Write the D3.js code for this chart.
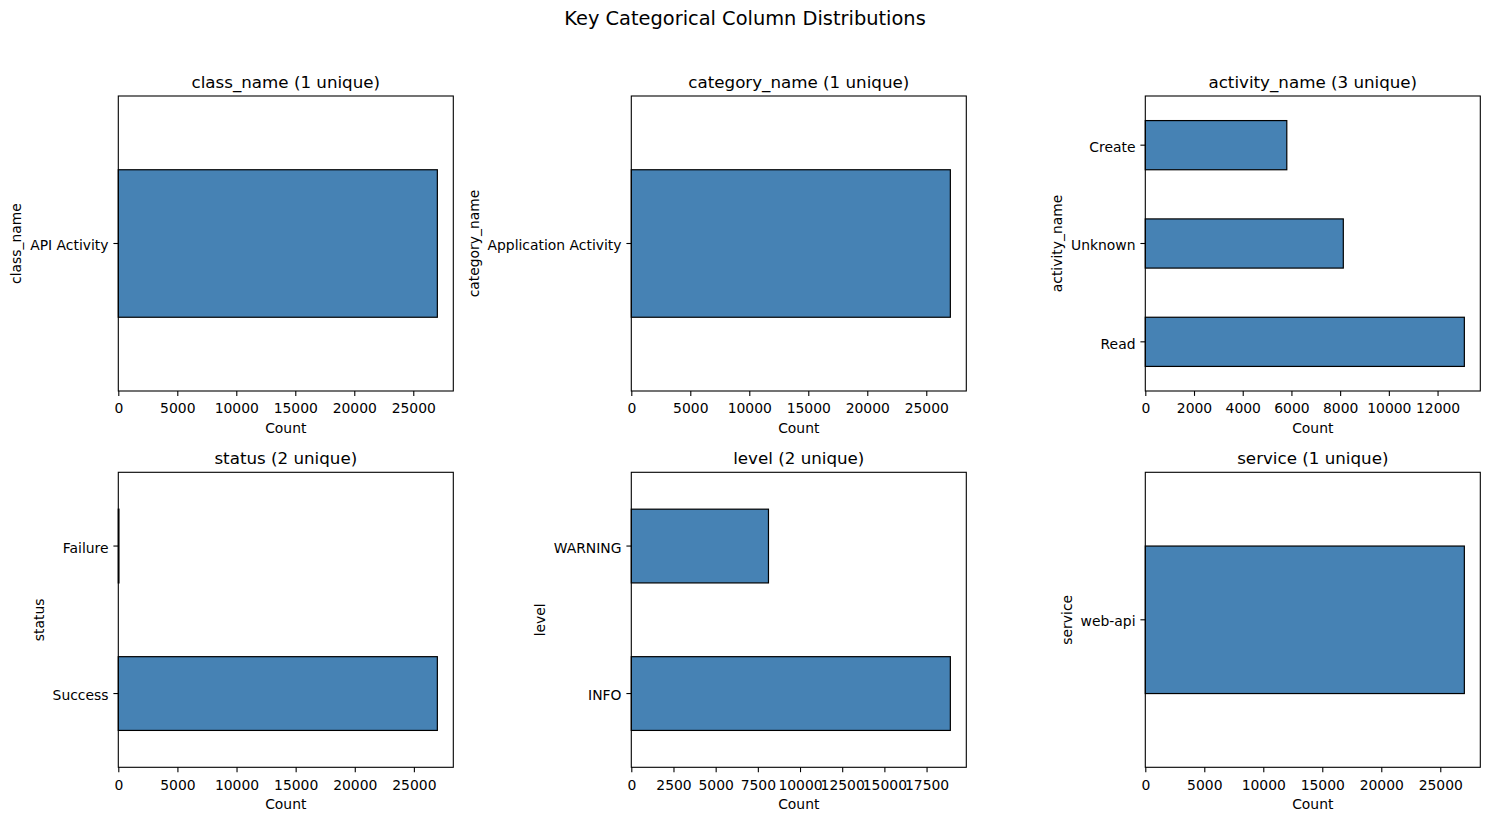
<!DOCTYPE html>
<html>
<head>
<meta charset="utf-8">
<script src="https://cdn.jsdelivr.net/npm/d3@7"></script>
<style>
  html, body { margin: 0; padding: 0; background: #fff; }
  svg { display: block; font-family: "DejaVu Sans", sans-serif; }
</style>
</head>
<body>
<svg id="chart" width="1489" height="820"></svg>
<script>
// ---- data ----
const suptitle = "Key Categorical Column Distributions";

const classNames = ["API Activity"];
const classCounts = [27040];

const categoryNames = ["Application Activity"];
const categoryCounts = [27040];

const activityNames = ["Read", "Unknown", "Create"];
const activityCounts = [13100, 8130, 5810];

const statusNames = ["Success", "Failure"];
const statusCounts = [26985, 55];

const levelNames = ["INFO", "WARNING"];
const levelCounts = [18910, 8130];

const serviceNames = ["web-api"];
const serviceCounts = [27040];

const ticks5000 = [0, 5000, 10000, 15000, 20000, 25000];
const ticks2000 = [0, 2000, 4000, 6000, 8000, 10000, 12000];
const ticks2500 = [0, 2500, 5000, 7500, 10000, 12500, 15000, 17500];

const panels = [
  { col: "class_name", names: classNames, counts: classCounts, ticks: ticks5000 },
  { col: "category_name", names: categoryNames, counts: categoryCounts, ticks: ticks5000 },
  { col: "activity_name", names: activityNames, counts: activityCounts, ticks: ticks2000 },
  { col: "status", names: statusNames, counts: statusCounts, ticks: ticks5000 },
  { col: "level", names: levelNames, counts: levelCounts, ticks: ticks2500 },
  { col: "service", names: serviceNames, counts: serviceCounts, ticks: ticks5000 }
];

// ---- layout ----
const svg = d3.select("#chart");
const colLeft = [118.3, 631.3, 1145.3];
const rowTop = [96, 472.3];
const W = 335, H = 295;
const tickFont = 13.9, titleFont = 16.7;

svg.append("text")
  .attr("x", 745).attr("y", 25)
  .attr("text-anchor", "middle")
  .attr("font-size", 19.4)
  .attr("fill", "#000")
  .text(suptitle);

panels.forEach((p, idx) => {
  const left = colLeft[idx % 3], top = rowTop[Math.floor(idx / 3)];
  const g = svg.append("g").attr("transform", `translate(${left},${top})`);

  const maxV = d3.max(p.counts);
  const x = d3.scaleLinear().domain([0, maxV * 1.05]).range([0, W]);
  // first category at bottom (matplotlib barh order)
  const y = d3.scaleBand().domain(p.names.slice().reverse()).range([0, H])
    .paddingInner(0.5).paddingOuter(0.25);

  // bars
  g.selectAll("rect.bar").data(p.names.map((n, i) => ({ n, v: p.counts[i] })))
    .enter().append("rect")
    .attr("class", "bar")
    .attr("x", x(0))
    .attr("y", d => y(d.n))
    .attr("width", d => x(d.v) - x(0))
    .attr("height", y.bandwidth())
    .attr("fill", "#4682b4")
    .attr("stroke", "#000")
    .attr("stroke-width", 1.2);

  // frame (spines)
  g.append("rect").attr("x", 0).attr("y", 0).attr("width", W).attr("height", H)
    .attr("fill", "none").attr("stroke", "#000").attr("stroke-width", 1.1);

  // x axis
  const xa = g.append("g").attr("transform", `translate(0,${H})`)
    .call(d3.axisBottom(x).tickValues(p.ticks).tickFormat(d3.format("d"))
      .tickSize(4.9).tickPadding(4.9).tickSizeOuter(0));
  xa.select(".domain").remove();
  xa.selectAll("line").attr("stroke", "#000").attr("stroke-width", 1.1);
  xa.selectAll("text").attr("font-size", tickFont).attr("font-family", "DejaVu Sans")
    .attr("fill", "#000").attr("dy", "0.9em");

  // y axis
  const ya = g.append("g")
    .call(d3.axisLeft(y).tickSize(4.9).tickPadding(4.9).tickSizeOuter(0));
  ya.select(".domain").remove();
  ya.selectAll("line").attr("stroke", "#000").attr("stroke-width", 1.1);
  ya.selectAll("text").attr("font-size", tickFont).attr("font-family", "DejaVu Sans")
    .attr("fill", "#000").attr("dy", "0.48em");

  // title
  g.append("text").attr("x", W / 2).attr("y", -8.3)
    .attr("text-anchor", "middle").attr("font-size", titleFont).attr("fill", "#000")
    .text(`${p.col} (${p.names.length} unique)`);

  // x label
  g.append("text").attr("x", W / 2).attr("y", H + 41.5)
    .attr("text-anchor", "middle").attr("font-size", tickFont).attr("fill", "#000")
    .text("Count");

  // y label, placed left of tick labels
  const bb = ya.node().getBBox();
  const lx = bb.x - 5.6 - 3.3;
  g.append("text")
    .attr("transform", `translate(${lx},${H / 2}) rotate(-90)`)
    .attr("text-anchor", "middle").attr("font-size", tickFont).attr("fill", "#000")
    .text(p.col);
});
</script>
</body>
</html>
